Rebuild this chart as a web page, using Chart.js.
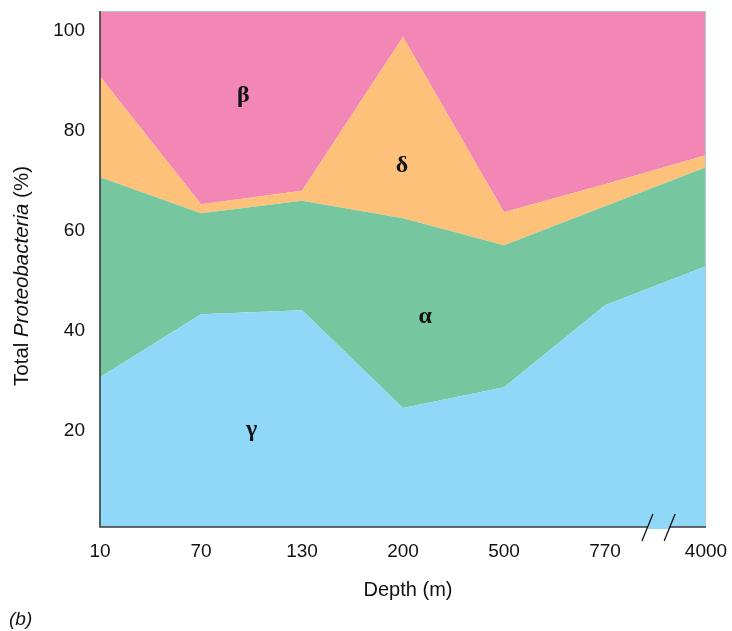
<!DOCTYPE html>
<html>
<head>
<meta charset="utf-8">
<script src="https://cdn.jsdelivr.net/npm/chart.js@4"></script>
<style>
    html, body { margin: 0; padding: 0; background: #ffffff; }
    #wrap { position: relative; width: 732px; height: 631px; }
    #panel-label {
        position: absolute; left: 9px; top: 608px;
        font: italic 19px "Liberation Sans", Arial, sans-serif; color: #111;
    }
</style>
</head>
<body>
<div id="wrap">
    <canvas id="proteo-chart" width="732" height="631"></canvas>
    <div id="panel-label">(b)</div>
</div>
<script>
// =========================================================
// DATA
// =========================================================

    const depths = ["10", "70", "130", "200", "500", "770", "4000"];

    // share of total Proteobacteria (%) at each depth
    const gammaValues = [30.7, 43.3, 44.1, 24.5, 28.7, 45.1, 52.9];
    const alphaValues = [40.0, 20.2, 21.9, 38.0, 28.4, 19.8, 19.8];
    const deltaValues = [20.2, 1.8, 2.0, 36.3, 6.6, 4.4, 2.4];
    const betaValues = [9.1, 34.7, 32.0, 1.2, 36.3, 30.7, 24.9];

    const yTicks = [20, 40, 60, 80, 100];

// =========================================================
// HELPERS
// =========================================================

    function addUp(a, b) {
        return a.map((value, i) => +(value + b[i]).toFixed(2));
    }

    const gammaTop = gammaValues.slice();
    const alphaTop = addUp(gammaTop, alphaValues);
    const deltaTop = addUp(alphaTop, deltaValues);
    // beta is drawn from its lower edge up to the top of the plot
    const betaBottom = deltaTop.map((v, i) => +(100 - betaValues[i]).toFixed(2));

    const FONT = "'Liberation Sans', Arial, Helvetica, sans-serif";

    // --- Decorations: frame, axes, axis break, titles, greek labels --- //

    const decorPlugin = {
        id: "decor",
        afterDraw(chart) {
            const ctx = chart.ctx;
            const area = chart.chartArea;
            const x = chart.scales.x;
            const y = chart.scales.y;

            ctx.save();

            // light frame on top and right
            ctx.strokeStyle = "#a9cbdc";
            ctx.lineWidth = 1;
            ctx.beginPath();
            ctx.moveTo(area.left, area.top + 0.5);
            ctx.lineTo(area.right - 0.5, area.top + 0.5);
            ctx.lineTo(area.right - 0.5, area.bottom);
            ctx.stroke();

            // dark axis lines, left and bottom
            ctx.strokeStyle = "#3a3a3a";
            ctx.lineWidth = 1.6;
            ctx.beginPath();
            ctx.moveTo(area.left, area.top);
            ctx.lineTo(area.left, area.bottom);
            ctx.lineTo(area.right, area.bottom);
            ctx.stroke();

            // axis break between 770 and 4000
            const x770 = x.getPixelForValue(5);
            const step = x.getPixelForValue(6) - x770;
            const axisY = area.bottom;
            const c1 = x770 + step * 0.42;
            const c2 = x770 + step * 0.64;

            ctx.fillStyle = "#8fd8f7";
            ctx.fillRect(c1, axisY - 2, c2 - c1, 4);

            ctx.strokeStyle = "#111";
            ctx.lineWidth = 1.3;
            [c1, c2].forEach(function (cx) {
                ctx.beginPath();
                ctx.moveTo(cx - 5.5, axisY + 14);
                ctx.lineTo(cx + 5.5, axisY - 13);
                ctx.stroke();
            });

            // axis titles
            ctx.fillStyle = "#111";
            ctx.textBaseline = "middle";
            ctx.textAlign = "center";
            ctx.font = "20px " + FONT;
            ctx.fillText("Depth (m)", (area.left + area.right) / 2 + 5, 590);

            const parts = [
                { text: "Total ", font: "20.5px " + FONT },
                { text: "Proteobacteria", font: "italic 20.5px " + FONT },
                { text: " (%)", font: "20.5px " + FONT }
            ];
            let total = 0;
            parts.forEach(function (p) {
                ctx.font = p.font;
                p.w = ctx.measureText(p.text).width;
                total += p.w;
            });
            ctx.translate(22, 276);
            ctx.rotate(-Math.PI / 2);
            ctx.textAlign = "left";
            let pos = -total / 2;
            parts.forEach(function (p) {
                ctx.font = p.font;
                ctx.fillText(p.text, pos, 0);
                pos += p.w;
            });
            ctx.setTransform(1, 0, 0, 1, 0, 0);

            // greek labels inside the areas
            ctx.textAlign = "center";
            ctx.font = "bold 24px 'Liberation Serif', 'DejaVu Serif', serif";
            const labels = [
                { text: "β", i: 1.42, v: 87.1 },
                { text: "δ", i: 2.99, v: 73.1 },
                { text: "α", i: 3.22, v: 42.7 },
                { text: "γ", i: 1.50, v: 20.1 }
            ];
            labels.forEach(function (l) {
                ctx.fillText(l.text, x.getPixelForValue(l.i), y.getPixelForValue(l.v));
            });

            ctx.restore();
        }
    };

// =========================================================
// CHART
// =========================================================

    const canvas = document.getElementById("proteo-chart");

    const proteoChart = new Chart(canvas, {
        type: "line",
        data: {
            labels: depths,
            datasets: [
                {
                    label: "γ",
                    data: gammaTop,
                    backgroundColor: "#8fd8f7",
                    fill: "start"
                },
                {
                    label: "α",
                    data: alphaTop,
                    backgroundColor: "#76c6a0",
                    fill: "-1"
                },
                {
                    label: "δ",
                    data: deltaTop,
                    backgroundColor: "#fdc17a",
                    fill: "-1"
                },
                {
                    label: "β",
                    data: betaBottom,
                    backgroundColor: "#f286b5",
                    fill: "end"
                }
            ]
        },
        options: {
            responsive: false,
            animation: false,
            layout: {
                padding: { left: 0, top: 11, right: 26, bottom: 0 }
            },
            elements: {
                line: { tension: 0, borderWidth: 0 },
                point: { radius: 0, hoverRadius: 0 }
            },
            plugins: {
                legend: { display: false },
                tooltip: { enabled: false }
            },
            scales: {
                x: {
                    offset: false,
                    grid: { display: false },
                    border: { display: false },
                    ticks: {
                        color: "#111",
                        padding: 5,
                        maxRotation: 0,
                        autoSkip: false,
                        font: { family: FONT, size: 19 }
                    },
                    afterFit(scale) {
                        scale.height = 104;
                        scale.paddingLeft = 0;
                        scale.paddingRight = 0;
                    }
                },
                y: {
                    min: 0.7,
                    max: 104,
                    grid: { display: false },
                    border: { display: false },
                    ticks: {
                        color: "#111",
                        padding: 7,
                        font: { family: FONT, size: 19 }
                    },
                    afterBuildTicks(scale) {
                        scale.ticks = yTicks.map(v => ({ value: v }));
                    },
                    afterFit(scale) {
                        scale.width = 100;
                        scale.paddingTop = 0;
                        scale.paddingBottom = 0;
                    }
                }
            }
        },
        plugins: [decorPlugin]
    });
</script>
</body>
</html>
